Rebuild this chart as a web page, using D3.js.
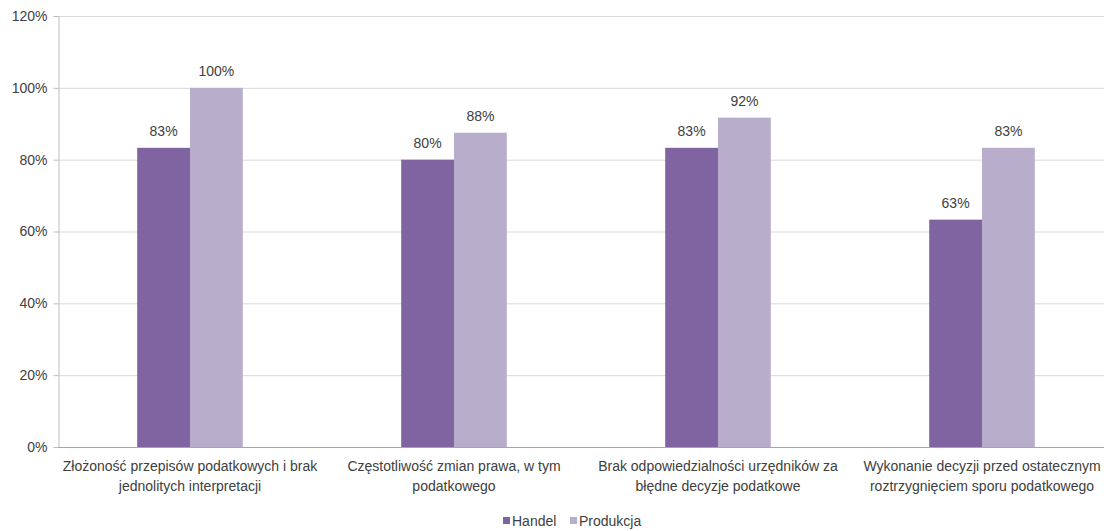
<!DOCTYPE html>
<html><head><meta charset="utf-8">
<script src="https://cdn.jsdelivr.net/npm/d3@7"></script>
<style>
body{margin:0;background:#fff;}
text{font-family:"Liberation Sans Narrow","Arial Narrow","Liberation Sans",sans-serif;fill:#404040;}
</style></head><body>
<svg id="c" width="1104" height="531"></svg>
<script>
const categories = [
  ["Złożoność przepisów podatkowych i brak","jednolitych interpretacji"],
  ["Częstotliwość zmian prawa, w tym","podatkowego"],
  ["Brak odpowiedzialności urzędników za","błędne decyzje podatkowe"],
  ["Wykonanie decyzji przed ostatecznym","roztrzygnięciem sporu podatkowego"]
];
const seriesNames = ["Handel","Produkcja"];
const handel = [83.3, 80, 83.3, 63.3];
const produkcja = [100, 87.5, 91.7, 83.3];
const yTicks = [0,20,40,60,80,100,120];
const colors = ["#8064A2","#B8AECC"];

const svg = d3.select("#c");
const pLeft = 58, pRight = 1114, pTop = 16, pBottom = 447;
const x = d3.scaleBand().domain(d3.range(categories.length)).range([pLeft,pRight]).paddingInner(0.6).paddingOuter(0.3);
const xs = d3.scaleBand().domain([0,1]).range([0,x.bandwidth()]);
const y = d3.scaleLinear().domain([0,120]).range([pBottom,pTop]);

// gridlines
svg.append("g").selectAll("line").data(yTicks.filter(d=>d>0)).join("line")
  .attr("x1",pLeft).attr("x2",1104).attr("y1",d=>y(d)+0.5).attr("y2",d=>y(d)+0.5)
  .attr("stroke","#D9D9D9").attr("stroke-width",1);

// y axis
const yAxis = svg.append("g").attr("transform",`translate(${pLeft+0.5},0)`)
  .call(d3.axisLeft(y).tickValues(yTicks).tickFormat(d=>d+"%").tickSize(5).tickPadding(6));
yAxis.select(".domain").attr("stroke","#BFBFBF");
yAxis.selectAll(".tick line").attr("stroke","#BFBFBF");
yAxis.selectAll(".tick text").attr("font-size","14px").attr("fill","#404040")
  .style("font-family",'"Liberation Sans Narrow","Arial Narrow",sans-serif');

const data = [handel, produkcja];
data.forEach((vals,si)=>{
  const g = svg.append("g");
  g.selectAll("rect").data(vals).join("rect")
    .attr("x",(d,i)=>x(i)+xs(si)).attr("width",xs.bandwidth())
    .attr("y",d=>y(d)).attr("height",d=>pBottom-y(d)).attr("fill",colors[si]);
  g.selectAll("text").data(vals).join("text")
    .attr("x",(d,i)=>x(i)+xs(si)+xs.bandwidth()/2).attr("y",d=>y(d)-12)
    .attr("text-anchor","middle").attr("font-size","14px")
    .text(d=>Math.round(d)+"%");
});

// x axis line
svg.append("line").attr("x1",pLeft).attr("x2",1104).attr("y1",pBottom+0.5).attr("y2",pBottom+0.5)
  .attr("stroke","#A6A6A6");

// category labels
const cl = svg.append("g");
categories.forEach((lines,i)=>{
  const cx = x(i)+x.bandwidth()/2;
  const t = cl.append("text").attr("x",cx).attr("y",471)
    .attr("text-anchor","middle").attr("font-size","14px");
  lines.forEach((l,j)=>t.append("tspan").attr("x",cx).attr("dy",j===0?0:20).text(l));
});

// legend
const lg = svg.append("g");
const lx = [503, 570];
seriesNames.forEach((n,i)=>{
  lg.append("rect").attr("x",lx[i]).attr("y",517).attr("width",7).attr("height",7).attr("fill",colors[i]);
  lg.append("text").attr("x",lx[i]+9).attr("y",526).attr("font-size","14px").text(n);
});
</script></body></html>
